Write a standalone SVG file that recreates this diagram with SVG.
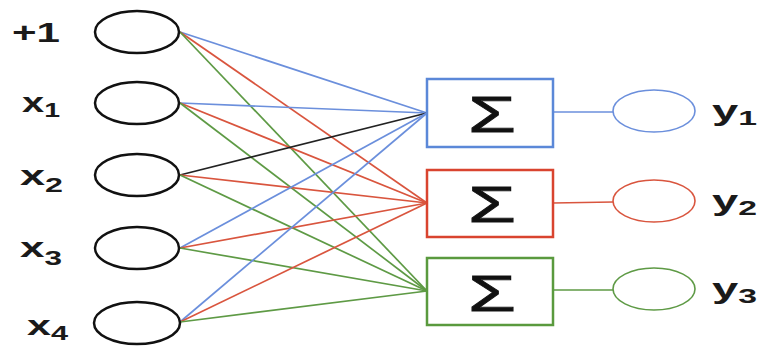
<svg xmlns="http://www.w3.org/2000/svg" width="765" height="347" viewBox="0 0 765 347">
<style>
.lbl{font-family:"Liberation Sans",Arial,sans-serif;font-weight:bold;fill:#1a1a1a}
.main{font-size:28px}
.sub{font-size:20px}
.in{fill:#fff;stroke:#111;stroke-width:2.5}
.box{fill:#fff;stroke-width:2.5}
.out{fill:#fff;stroke-width:1.6}
.sig{font-family:"Liberation Sans",Arial,sans-serif;font-size:50px;fill:#111;stroke:#111;stroke-width:0.8}
.c line{stroke-width:1.7;fill:none}
.b{stroke:#6b8fdc}
.r{stroke:#d9553e}
.g{stroke:#5e9a45}
.k{stroke:#222}
</style>
<rect width="765" height="347" fill="#fff"/>
<g id="connectors" class="c">
<line class="b" x1="180" y1="32" x2="427" y2="113"/>
<line class="r" x1="180" y1="32" x2="427" y2="203"/>
<line class="g" x1="180" y1="32" x2="427" y2="291"/>
<line class="b" x1="180" y1="103" x2="427" y2="113"/>
<line class="r" x1="180" y1="103" x2="427" y2="203"/>
<line class="g" x1="180" y1="103" x2="427" y2="291"/>
<line class="k" x1="180" y1="175" x2="427" y2="113"/>
<line class="r" x1="180" y1="175" x2="427" y2="203"/>
<line class="g" x1="180" y1="175" x2="427" y2="291"/>
<line class="b" x1="180" y1="248" x2="427" y2="113"/>
<line class="r" x1="180" y1="248" x2="427" y2="203"/>
<line class="g" x1="180" y1="248" x2="427" y2="291"/>
<line class="b" x1="180" y1="322" x2="427" y2="113"/>
<line class="r" x1="180" y1="322" x2="427" y2="203"/>
<line class="g" x1="180" y1="322" x2="427" y2="291"/>
<line class="b" x1="553" y1="112" x2="613" y2="112"/>
<line class="r" x1="553" y1="203" x2="613" y2="202"/>
<line class="g" x1="553" y1="290" x2="613" y2="290"/>
</g>
<g id="in0"><ellipse class="in" cx="137" cy="32" rx="42" ry="21"/><text class="lbl main" x="12" y="42" textLength="48" lengthAdjust="spacingAndGlyphs">+1</text></g>
<g id="in1"><ellipse class="in" cx="137" cy="103" rx="42" ry="21"/><text class="lbl main" x="22" y="112" textLength="38" lengthAdjust="spacingAndGlyphs">x<tspan class="sub" dy="5">1</tspan></text></g>
<g id="in2"><ellipse class="in" cx="137" cy="175" rx="42" ry="21"/><text class="lbl main" x="20" y="185" textLength="43" lengthAdjust="spacingAndGlyphs">x<tspan class="sub" dy="7">2</tspan></text></g>
<g id="in3"><ellipse class="in" cx="137" cy="248" rx="42" ry="21"/><text class="lbl main" x="20" y="257" textLength="42" lengthAdjust="spacingAndGlyphs">x<tspan class="sub" dy="8">3</tspan></text></g>
<g id="in4"><ellipse class="in" cx="137" cy="323" rx="43" ry="21"/><text class="lbl main" x="27" y="335" textLength="41" lengthAdjust="spacingAndGlyphs">x<tspan class="sub" dy="5">4</tspan></text></g>
<g id="sum1"><rect class="box" x="427" y="79" width="126" height="68" stroke="#5b88d8"/><text class="sig" x="492" y="132" text-anchor="middle" textLength="48" lengthAdjust="spacingAndGlyphs">Σ</text></g>
<g id="sum2"><rect class="box" x="427" y="170" width="126" height="67" stroke="#d9442f"/><text class="sig" x="492" y="222" text-anchor="middle" textLength="48" lengthAdjust="spacingAndGlyphs">Σ</text></g>
<g id="sum3"><rect class="box" x="427" y="258" width="126" height="67" stroke="#5a9a3e"/><text class="sig" x="492" y="311" text-anchor="middle" textLength="48" lengthAdjust="spacingAndGlyphs">Σ</text></g>
<g id="out1"><ellipse class="out" cx="654" cy="111" rx="41" ry="21" stroke="#6b8fdc"/><text class="lbl main" x="712" y="120" textLength="45" lengthAdjust="spacingAndGlyphs">y<tspan class="sub" dy="5">1</tspan></text></g>
<g id="out2"><ellipse class="out" cx="654" cy="201" rx="41" ry="21" stroke="#d9553e"/><text class="lbl main" x="712" y="210" textLength="45" lengthAdjust="spacingAndGlyphs">y<tspan class="sub" dy="5">2</tspan></text></g>
<g id="out3"><ellipse class="out" cx="654" cy="289" rx="41" ry="21" stroke="#5e9a45"/><text class="lbl main" x="712" y="298" textLength="45" lengthAdjust="spacingAndGlyphs">y<tspan class="sub" dy="5">3</tspan></text></g>
</svg>
